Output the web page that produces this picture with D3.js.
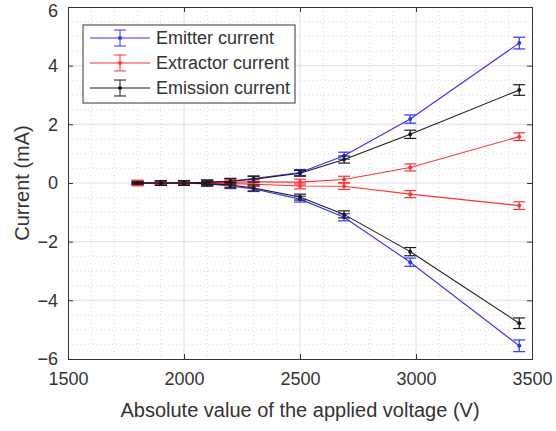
<!DOCTYPE html>
<html>
<head>
<meta charset="utf-8">
<script src="https://cdn.jsdelivr.net/npm/d3@7"></script>
<style>
  body { margin: 0; background: #fff; }
  svg text { font-family: "Liberation Sans", Arial, sans-serif; fill: #333; }
</style>
</head>
<body>
<svg width="556" height="431"></svg>
<script>
// voltages (V)
const voltage = [1800, 1900, 2000, 2100, 2200, 2300, 2500, 2690, 2975, 3445];

// currents (mA), two polarity branches per series
const emitterPos   = [0, 0, 0, 0.02, 0.07, 0.15, 0.36, 0.93, 2.18, 4.77];
const emitterNeg   = [0, 0, 0, -0.03, -0.10, -0.20, -0.55, -1.17, -2.70, -5.55];
const extractorPos = [0, 0, 0, 0.01, 0.03, 0.04, 0.03, 0.12, 0.53, 1.58];
const extractorNeg = [0, 0, 0, -0.01, -0.02, -0.04, -0.10, -0.11, -0.38, -0.77];
const emissionPos  = [0, 0, 0, 0.02, 0.06, 0.13, 0.33, 0.80, 1.66, 3.17];
const emissionNeg  = [0, 0, 0, -0.02, -0.07, -0.17, -0.48, -1.07, -2.34, -4.78];

// error bar half-heights (mA)
const emitterErr   = [0.04, 0.04, 0.04, 0.08, 0.09, 0.09, 0.1, 0.12, 0.14, 0.2];
const extractorErr = [0.09, 0.06, 0.06, 0.08, 0.08, 0.08, 0.1, 0.11, 0.12, 0.13];
const emissionErr  = [0.03, 0.08, 0.08, 0.08, 0.09, 0.1, 0.1, 0.12, 0.14, 0.18];

const xTicks = [1500, 2000, 2500, 3000, 3500];
const yTicks = [-6, -4, -2, 0, 2, 4, 6];

const seriesNames = ["Emitter current", "Extractor current", "Emission current"];
const seriesColors = ["#3333ff", "#ff3333", "#1a1a1a"];

const margin = { top: 7, right: 24, bottom: 72, left: 68 };
const width = 556 - margin.left - margin.right;
const height = 431 - margin.top - margin.bottom;

const svg = d3.select("svg")
    .append("g")
    .attr("transform", `translate(${margin.left},${margin.top})`);

const x = d3.scaleLinear().domain([1500, 3500]).range([0, width]);
const y = d3.scaleLinear().domain([-6, 6]).range([height, 0]);

// minor grid (dotted)
svg.append("g").selectAll("line")
    .data(d3.range(1600, 3500, 100).filter(v => v % 500 !== 0))
    .enter().append("line")
    .attr("x1", d => x(d)).attr("x2", d => x(d))
    .attr("y1", 0).attr("y2", height)
    .attr("stroke", "#d9d9d9").attr("stroke-dasharray", "1,3");
svg.append("g").selectAll("line")
    .data(d3.range(-5.5, 6, 0.5).filter(v => v % 2 !== 0))
    .enter().append("line")
    .attr("y1", d => y(d)).attr("y2", d => y(d))
    .attr("x1", 0).attr("x2", width)
    .attr("stroke", "#d9d9d9").attr("stroke-dasharray", "1,3");

// major grid
svg.append("g").selectAll("line")
    .data(xTicks.slice(1, -1))
    .enter().append("line")
    .attr("x1", d => x(d)).attr("x2", d => x(d))
    .attr("y1", 0).attr("y2", height)
    .attr("stroke", "#e0e0e0");
svg.append("g").selectAll("line")
    .data(yTicks.slice(1, -1))
    .enter().append("line")
    .attr("y1", d => y(d)).attr("y2", d => y(d))
    .attr("x1", 0).attr("x2", width)
    .attr("stroke", "#e0e0e0");

// axes
svg.append("g")
    .attr("transform", `translate(0,${height})`)
    .call(d3.axisBottom(x).tickValues(xTicks).tickFormat(d3.format("d")).tickSize(-5).tickPadding(13));
const yAxis = svg.append("g")
    .call(d3.axisLeft(y).tickValues(yTicks).tickSize(-5).tickPadding(10));
svg.append("g")
    .call(d3.axisTop(x).tickValues(xTicks).tickSize(-5).tickFormat(""));
svg.append("g")
    .attr("transform", `translate(${width},0)`)
    .call(d3.axisRight(y).tickValues(yTicks).tickSize(-5).tickFormat(""));

svg.selectAll(".domain").attr("stroke", "#333");
svg.selectAll(".tick line").attr("stroke", "#333");
svg.selectAll(".tick text").style("font-size", "18px").attr("fill", "#333")
    .style("font-family", "'Liberation Sans', Arial, sans-serif");
// keep the top label inside the picture
yAxis.selectAll(".tick text").filter(d => d === 6).attr("dy", "0.5em");

// axis labels
svg.append("text")
    .attr("x", width / 2).attr("y", height + 58)
    .attr("text-anchor", "middle")
    .style("font-size", "20px")
    .text("Absolute value of the applied voltage (V)");
svg.append("text")
    .attr("transform", `translate(${-39},${height / 2}) rotate(-90)`)
    .attr("text-anchor", "middle")
    .style("font-size", "20px")
    .text("Current (mA)");

// series
const series = [
    { color: seriesColors[0], vals: [emitterPos, emitterNeg], err: emitterErr },
    { color: seriesColors[1], vals: [extractorPos, extractorNeg], err: extractorErr },
    { color: seriesColors[2], vals: [emissionPos, emissionNeg], err: emissionErr }
];

const line = d3.line()
    .x(d => x(d.v))
    .y(d => y(d.c));

const capW = 6;

series.forEach(s => {
    const g = svg.append("g");
    s.vals.forEach(branch => {
        const pts = voltage.map((v, i) => ({ v: v, c: branch[i], e: s.err[i] }));
        g.append("path")
            .datum(pts)
            .attr("fill", "none")
            .attr("stroke", s.color)
            .attr("stroke-width", 1.1)
            .attr("d", line);
        const eb = g.selectAll(null)
            .data(pts)
            .enter().append("g")
            .attr("stroke", s.color)
            .attr("stroke-width", 1.2);
        eb.append("line")
            .attr("x1", d => x(d.v)).attr("x2", d => x(d.v))
            .attr("y1", d => y(d.c - d.e)).attr("y2", d => y(d.c + d.e));
        eb.append("line")
            .attr("x1", d => x(d.v) - capW).attr("x2", d => x(d.v) + capW)
            .attr("y1", d => y(d.c + d.e)).attr("y2", d => y(d.c + d.e));
        eb.append("line")
            .attr("x1", d => x(d.v) - capW).attr("x2", d => x(d.v) + capW)
            .attr("y1", d => y(d.c - d.e)).attr("y2", d => y(d.c - d.e));
        g.selectAll(null)
            .data(pts)
            .enter().append("circle")
            .attr("cx", d => x(d.v)).attr("cy", d => y(d.c))
            .attr("r", 2)
            .attr("fill", s.color);
    });
});

// legend
const legend = d3.select("svg").append("g")
    .attr("transform", "translate(83,25)");
legend.append("rect")
    .attr("width", 212).attr("height", 78)
    .attr("fill", "#fff").attr("stroke", "#333").attr("stroke-width", 1);

seriesNames.forEach((name, i) => {
    const ly = 13 + i * 25;
    const lg = legend.append("g").attr("stroke", seriesColors[i]);
    lg.append("line").attr("x1", 7).attr("x2", 67).attr("y1", ly).attr("y2", ly);
    lg.append("line").attr("x1", 37).attr("x2", 37).attr("y1", ly - 8).attr("y2", ly + 8);
    lg.append("line").attr("x1", 31).attr("x2", 43).attr("y1", ly - 8).attr("y2", ly - 8);
    lg.append("line").attr("x1", 31).attr("x2", 43).attr("y1", ly + 8).attr("y2", ly + 8);
    legend.append("circle").attr("cx", 37).attr("cy", ly).attr("r", 2).attr("fill", seriesColors[i]);
    legend.append("text")
        .attr("x", 73).attr("y", ly + 6)
        .style("font-size", "18px")
        .text(name);
});
</script>
</body>
</html>
